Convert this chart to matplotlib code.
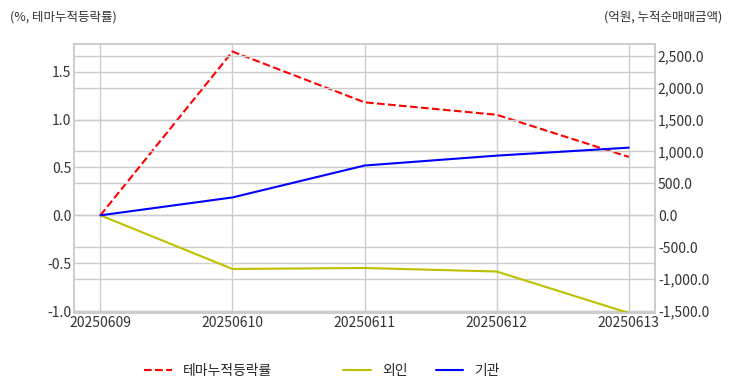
import matplotlib
matplotlib.use('Agg')
import matplotlib.pyplot as plt
import matplotlib.ticker as mticker

# 데이터
dates = ['20250609', '20250610', '20250611', '20250612', '20250613']
theme_rate = [0.0, 1.71, 1.18, 1.05, 0.61]      # 테마누적등락률 (%)
foreign = [0.0, -840.0, -825.0, -880.0, -1530.0]  # 외인 (억원)
inst = [0.0, 280.0, 780.0, 935.0, 1060.0]         # 기관 (억원)

plt.style.use('seaborn-v0_8-whitegrid')
plt.rcParams['font.family'] = ['Noto Sans CJK KR', 'DejaVu Sans']
plt.rcParams['axes.unicode_minus'] = False

fig = plt.figure(figsize=(7.32, 3.92), dpi=100)
ax1 = fig.add_axes([0.101, 0.2015, 0.794, 0.6865])
ax2 = ax1.twinx()

x = range(len(dates))
l1, = ax1.plot(x, theme_rate, color='r', linestyle='--', linewidth=1.5, label='테마누적등락률')
l2, = ax2.plot(x, foreign, color='y', linewidth=1.5, label='외인')
l3, = ax2.plot(x, inst, color='b', linewidth=1.5, label='기관')

ax1.set_xlim(-0.2, 4.2)
ax1.set_ylim(-1.02, 1.79)
ax2.set_ylim(-1.02 * 1500, 1.79 * 1500)
ax1.set_xticks(list(x))
ax1.set_xticklabels(dates)
ax1.set_yticks([-1.0, -0.5, 0.0, 0.5, 1.0, 1.5])
ax2.set_yticks([-1500, -1000, -500, 0, 500, 1000, 1500, 2000, 2500])
ax1.yaxis.set_major_formatter(mticker.FormatStrFormatter('%.1f'))
ax2.yaxis.set_major_formatter(mticker.FuncFormatter(lambda v, p: f'{v:,.1f}'))

for ax in (ax1, ax2):
    ax.tick_params(labelsize=10, colors='#333333', pad=2)
    ax.grid(True, color='#cccccc', linewidth=1.0)
    for s in ax.spines.values():
        s.set_visible(True)
        s.set_color('#cccccc')
        s.set_linewidth(1.2)
ax2.grid(axis='x', visible=False)

fig.text(0.013, 0.957, '(%, 테마누적등락률)', fontsize=9, color='#333333', ha='left', va='center')
fig.text(0.987, 0.957, '(억원, 누적순매매금액)', fontsize=9, color='#333333', ha='right', va='center')

leg1 = fig.legend(handles=[l1], loc='center', bbox_to_anchor=(0.284, 0.054), frameon=False, fontsize=10)
leg2 = fig.legend(handles=[l2, l3], loc='center', bbox_to_anchor=(0.576, 0.054), ncol=2, frameon=False, fontsize=10)

fig.savefig('out.png', dpi=100)
